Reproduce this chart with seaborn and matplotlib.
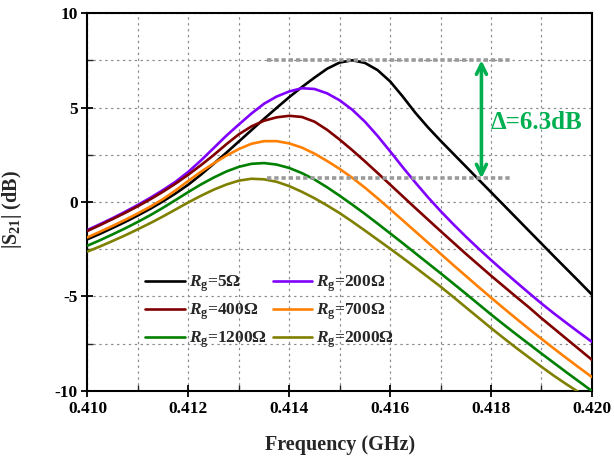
import numpy as np
import pandas as pd
import seaborn as sns
import matplotlib
matplotlib.use("Agg")
import matplotlib.pyplot as plt
from matplotlib.ticker import MultipleLocator, FormatStrFormatter

# ---------------- data ----------------
freq = np.round(np.linspace(0.410, 0.420, 41), 5)

s21_rg5 = [-1.97, -1.68, -1.37, -1.05, -0.71, -0.35, 0.04, 0.46, 0.92, 1.45,
           2.02, 2.60, 3.20, 3.80, 4.40, 4.98, 5.55, 6.08, 6.58, 7.05,
           7.38, 7.50, 7.36, 6.98, 6.38, 5.58, 4.72, 3.95, 3.24, 2.56,
           1.88, 1.20, 0.52, -0.16, -0.84, -1.52, -2.20, -2.88, -3.55, -4.22,
           -4.90]
s21_rg200 = [-1.48, -1.17, -0.85, -0.51, -0.15, 0.23, 0.64, 1.08, 1.60, 2.20,
             2.85, 3.50, 4.10, 4.68, 5.20, 5.58, 5.85, 6.02, 5.98, 5.75,
             5.38, 4.88, 4.25, 3.50, 2.68, 1.84, 1.03, 0.25, -0.48, -1.17,
             -1.83, -2.46, -3.07, -3.66, -4.24, -4.81, -5.37, -5.90, -6.41, -6.91,
             -7.40]
s21_rg400 = [-1.53, -1.22, -0.90, -0.57, -0.22, 0.15, 0.55, 0.98, 1.45, 1.95,
             2.48, 3.05, 3.58, 4.00, 4.30, 4.48, 4.56, 4.50, 4.25, 3.82,
             3.30, 2.74, 2.15, 1.54, 0.92, 0.30, -0.32, -0.93, -1.54, -2.14,
             -2.74, -3.32, -3.90, -4.46, -5.02, -5.57, -6.15, -6.70, -7.25, -7.80,
             -8.35]
s21_rg700 = [-1.87, -1.57, -1.26, -0.94, -0.60, -0.24, 0.16, 0.62, 1.12, 1.60,
             2.04, 2.45, 2.80, 3.08, 3.22, 3.22, 3.10, 2.88, 2.56, 2.17,
             1.75, 1.28, 0.76, 0.20, -0.38, -0.97, -1.56, -2.15, -2.74, -3.33,
             -3.91, -4.49, -5.06, -5.62, -6.17, -6.71, -7.24, -7.76, -8.27, -8.77,
             -9.26]
s21_rg1200 = [-2.31, -2.02, -1.71, -1.39, -1.05, -0.69, -0.30, 0.11, 0.53, 0.93,
              1.29, 1.61, 1.86, 2.02, 2.06, 1.98, 1.80, 1.53, 1.19, 0.78,
              0.33, -0.14, -0.63, -1.14, -1.66, -2.18, -2.71, -3.24, -3.77, -4.31,
              -4.85, -5.40, -5.95, -6.48, -7.00, -7.51, -8.02, -8.52, -9.02, -9.51,
              -10.00]
s21_rg2000 = [-2.62, -2.35, -2.06, -1.76, -1.44, -1.11, -0.76, -0.39, -0.02, 0.33,
              0.65, 0.92, 1.13, 1.23, 1.20, 1.07, 0.84, 0.54, 0.20, -0.18,
              -0.59, -1.04, -1.51, -1.99, -2.47, -2.96, -3.46, -3.97, -4.48, -5.02,
              -5.57, -6.12, -6.67, -7.20, -7.72, -8.22, -8.72, -9.20, -9.65, -10.08,
              -10.50]

rg_values = ["5", "200", "400", "700", "1200", "2000"]
series = [s21_rg5, s21_rg200, s21_rg400, s21_rg700, s21_rg1200, s21_rg2000]
colors = ["#000000", "#8000FF", "#800000", "#FF8000", "#008000", "#808000"]
legend_order = ["5", "400", "1200", "200", "700", "2000"]

x_ticks = [0.410, 0.412, 0.414, 0.416, 0.418, 0.420]
y_ticks = [-10, -5, 0, 5, 10]

delta_levels = [7.5, 1.25]          # dB levels of the two reference lines
delta_span = [0.41355, 0.41837]     # GHz extent of those lines
arrow_x = 0.41781
delta_text = "Δ=6.3dB"

# ---------------- styling ----------------
sns.set_theme(style="white")
plt.rcParams.update({
    "font.family": ["Liberation Serif", "DejaVu Serif"],
    "font.weight": "bold",
    "axes.unicode_minus": False,
    "mathtext.fontset": "custom",
    "mathtext.rm": "Liberation Serif:bold",
    "mathtext.it": "Liberation Serif:bold:italic",
    "mathtext.bf": "Liberation Serif:bold",
})

df = pd.DataFrame({
    "freq": np.tile(freq, len(series)),
    "s21": np.concatenate(series),
    "rg": np.repeat(rg_values, len(freq)),
})

fig = plt.figure(figsize=(6.14, 4.58), dpi=100)
ax = fig.add_axes([0.1425, 0.1463, 0.8215, 0.8253])

sns.lineplot(data=df, x="freq", y="s21", hue="rg", hue_order=rg_values,
             palette=dict(zip(rg_values, colors)), estimator=None, sort=False,
             linewidth=1.9, legend=False, ax=ax, zorder=3)

ax.set_xlim(0.410, 0.420)
ax.set_ylim(-10, 10)
ax.xaxis.set_major_locator(MultipleLocator(0.002))
ax.xaxis.set_minor_locator(MultipleLocator(0.001))
ax.yaxis.set_major_locator(MultipleLocator(5))
ax.yaxis.set_minor_locator(MultipleLocator(2.5))
ax.xaxis.set_major_formatter(FormatStrFormatter("%.3f"))
ax.yaxis.set_major_formatter(FormatStrFormatter("%d"))
ax.set_xticks(x_ticks)
ax.set_yticks(y_ticks)

ax.grid(which="both", color="#8a8a8a", linestyle=(0, (2, 3)), linewidth=0.85)
ax.set_axisbelow(True)
for sp in ax.spines.values():
    sp.set_color("black")
    sp.set_linewidth(1.5)
ax.tick_params(which="major", direction="inout", length=8, width=1.3,
               bottom=True, left=True, top=False, right=False,
               labelsize=12.5, colors="black", pad=3)
ax.tick_params(which="minor", direction="in", length=4, width=1.0,
               bottom=True, left=True, top=False, right=False)
for lab in ax.get_xticklabels() + ax.get_yticklabels():
    lab.set_fontweight("bold")

ax.set_xlabel("Frequency (GHz)", fontsize=14.5, fontweight="bold", labelpad=13)
ax.set_ylabel(r"$|\mathrm{S}_{21}|$ (dB)", fontsize=14.5, fontweight="bold")
ax.yaxis.set_label_coords(-0.125, 0.48)

# reference lines and arrow
for lvl in delta_levels:
    ax.hlines(lvl, delta_span[0], delta_span[1], colors="#9a9a9a",
              linestyles=(0, (1.2, 0.8)), linewidth=2.6, zorder=4)
ax.annotate("", xy=(arrow_x, delta_levels[0]), xytext=(arrow_x, delta_levels[1]),
            arrowprops=dict(arrowstyle="<->", color="#00B050", lw=2.6,
                            mutation_scale=18, shrinkA=0, shrinkB=0), zorder=5)
ax.text(arrow_x + 0.00018, 4.2, delta_text,
        color="#00B050", fontsize=18, fontweight="bold", ha="left", va="center")

# legend
lines = {rg: ln for rg, ln in zip(rg_values, ax.get_lines())}
handles = [lines[rg] for rg in legend_order]
labels = [r"$R_\mathrm{g}$=" + rg + "Ω" for rg in legend_order]
ax.legend(handles, labels, ncol=2, frameon=False, loc="center left",
          bbox_to_anchor=(0.104, 0.209), borderaxespad=0, handlelength=2.3,
          handletextpad=0.2, columnspacing=0.35, labelspacing=0.43, borderpad=0.3,
          prop={"weight": "bold", "size": 12.5})

fig.savefig("out.png", dpi=100)
